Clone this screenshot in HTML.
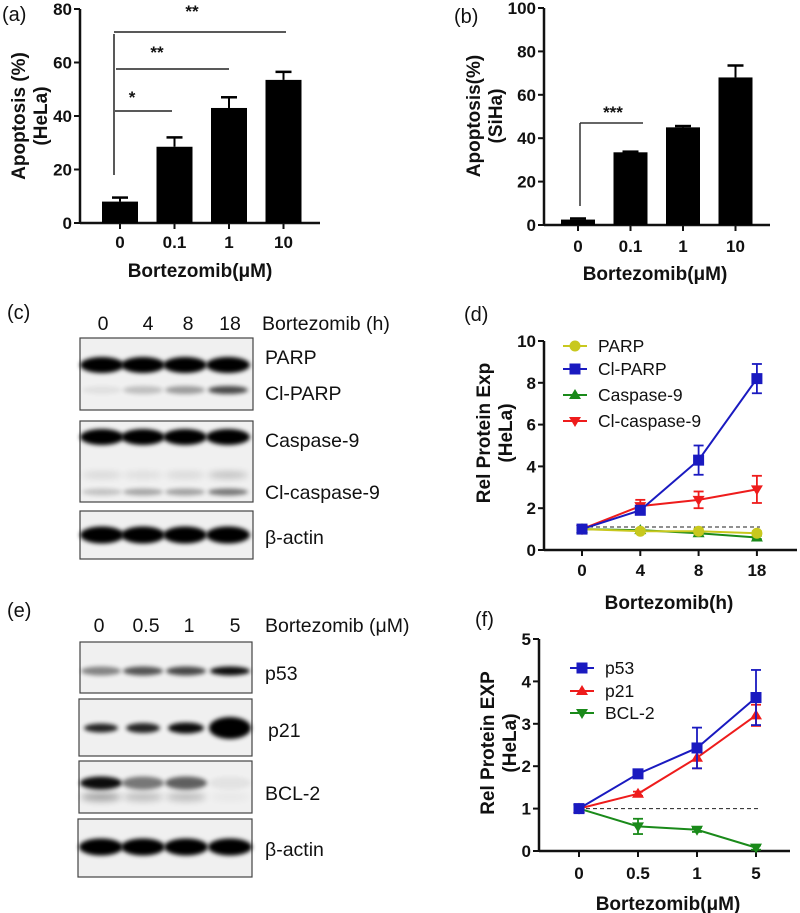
<!DOCTYPE html>
<html><head><meta charset="utf-8"><style>
html,body{margin:0;padding:0;background:#fff;}
svg{display:block;font-family:"Liberation Sans",Arial,sans-serif;}
.tk{font-size:17px;font-weight:bold;fill:#111;}
.at{font-size:19px;font-weight:bold;fill:#111;}
.pl{font-size:20px;fill:#111;}
.bl{font-size:19.5px;fill:#111;}
.lg{font-size:17.5px;fill:#111;}
</style></head><body>
<svg id="fig" width="800" height="913" viewBox="0 0 800 913">
<defs>
<filter id="blur" x="-30%" y="-100%" width="160%" height="300%"><feGaussianBlur stdDeviation="2.2"/></filter>
<filter id="blur2" x="-30%" y="-100%" width="160%" height="300%"><feGaussianBlur stdDeviation="3.5"/></filter>
</defs>
<g id="root"></g>
</svg>
<script>
// ---- data ----
const barCats = ["0","0.1","1","10"];
const helaVals = [8, 28.5, 43, 53.5];
const helaErr = [1.5, 3.5, 4, 3];
const sihaVals = [2.5, 33.5, 45, 68];
const sihaErr = [0.5, 0.3, 0.6, 5.5];
const helaTicks = [0,20,40,60,80];
const sihaTicks = [0,20,40,60,80,100];

const dCats = ["0","4","8","18"];
const dTicks = [0,2,4,6,8,10];
const parpVals = [1, 0.9, 0.9, 0.8];
const parpErr = [0.05, 0.08, 0.12, 0.1];
const clparpVals = [1, 1.9, 4.3, 8.2];
const clparpErr = [0.05, 0.12, 0.7, 0.7];
const casp9Vals = [1, 0.95, 0.8, 0.6];
const casp9Err = [0.05, 0.05, 0.1, 0.08];
const clcasp9Vals = [1, 2.1, 2.4, 2.9];
const clcasp9Err = [0.05, 0.3, 0.4, 0.65];
const dRef = 1.1;

const fCats = ["0","0.5","1","5"];
const fTicks = [0,1,2,3,4,5];
const p53Vals = [1, 1.82, 2.43, 3.62];
const p53Err = [0.03, 0.08, 0.48, 0.65];
const p21Vals = [1, 1.35, 2.2, 3.2];
const p21Err = [0.03, 0.05, 0.25, 0.25];
const bcl2Vals = [1, 0.58, 0.5, 0.08];
const bcl2Err = [0.03, 0.18, 0.05, 0.05];
const fRef = 1;

const NS = "http://www.w3.org/2000/svg";
const root = document.getElementById('root');
function el(tag, attrs, parent, txt){
  const e = document.createElementNS(NS, tag);
  for (const k in attrs) e.setAttribute(k, attrs[k]);
  if (txt !== undefined) e.textContent = txt;
  (parent || root).appendChild(e);
  return e;
}
function grp(name){
  const g = el('g', {});
  
  
  return g;
}

function axes(g, x0, x1, yTop, yBot, ticks, ymax, tickLabelX, cats, xFn, tickY){
  const yFn = v => yBot - (v / ymax) * (yBot - yTop);
  const ax = el('line', {x1:x0, y1:yTop, x2:x0, y2:yBot, stroke:'#111', 'stroke-width':2.5}, g);
  
  
  const bx = el('line', {x1:x0, y1:yBot, x2:x1, y2:yBot, stroke:'#111', 'stroke-width':2.5}, g);
  
  
  ticks.forEach(t => {
    const y = yFn(t);
    el('line', {x1:x0-6, y1:y, x2:x0, y2:y, stroke:'#111', 'stroke-width':2}, g);
    const tl = el('text', {x:x0-8, y:y+6, 'text-anchor':'end', class:'tk'}, g, String(t));
    
    
  });
  cats.forEach((c, i) => {
    const x = xFn(i);
    el('line', {x1:x, y1:yBot, x2:x, y2:yBot+6, stroke:'#111', 'stroke-width':2}, g);
    const tl = el('text', {x:x, y:tickY, 'text-anchor':'middle', class:'tk'}, g, c);
    
    
  });
  return yFn;
}
function ytitle(g, cx, cy, l1, l2){
  const t = el('text', {transform:`translate(${cx},${cy}) rotate(-90)`, 'text-anchor':'middle', class:'at'}, g);
  
  
  el('tspan', {x:0, dy:-4}, t, l1);
  el('tspan', {x:0, dy:22}, t, l2);
}
function xtitle(g, cx, y, s){
  const t = el('text', {x:cx, y:y, 'text-anchor':'middle', class:'at'}, g, s);
  
  
}
function plabel(x, y, s){
  const t = el('text', {x:x, y:y, class:'pl'}, root, s);
  
  
}

// ---- Panel a ----
(function(){
  const g = grp('panel-a-hela-apoptosis');
  const xFn = i => 120 + i * 54.5;
  const yFn = axes(g, 80, 320, 9, 223, helaTicks, 80, 0, barCats, xFn, 248);
  helaVals.forEach((v, i) => {
    const x = xFn(i), y = yFn(v), ye = yFn(v + helaErr[i]);
    el('line', {x1:x, y1:y, x2:x, y2:ye, stroke:'#000', 'stroke-width':2}, g);
    el('line', {x1:x-8, y1:ye, x2:x+8, y2:ye, stroke:'#000', 'stroke-width':2.5}, g);
    const b = el('rect', {x:x-18, y:y, width:36, height:223-y, fill:'#000'}, g);
    
    
  });
  const s = el('g', {stroke:'#222', 'stroke-width':1.5}, g);
  
  
  el('line', {x1:114, y1:34, x2:114, y2:175}, s);
  el('line', {x1:114, y1:32, x2:286, y2:32}, s);
  el('line', {x1:116, y1:69, x2:229, y2:69}, s);
  el('line', {x1:115, y1:111, x2:172, y2:111}, s);
  el('text', {x:192, y:17, 'text-anchor':'middle', class:'tk'}, g, '**');
  el('text', {x:157, y:58, 'text-anchor':'middle', class:'tk'}, g, '**');
  el('text', {x:132, y:103, 'text-anchor':'middle', class:'tk'}, g, '*');
  ytitle(g, 29, 116, 'Apoptosis (%)', '(HeLa)');
  xtitle(g, 200, 277, 'Bortezomib(\u03bcM)');
  plabel(2, 21, '(a)');
})();

// ---- Panel b ----
(function(){
  const g = grp('panel-b-siha-apoptosis');
  const xFn = i => 578 + i * 52.5;
  const yFn = axes(g, 544, 770, 8, 225, sihaTicks, 100, 0, barCats, xFn, 252);
  sihaVals.forEach((v, i) => {
    const x = xFn(i), y = yFn(v), ye = yFn(v + sihaErr[i]);
    el('line', {x1:x, y1:y, x2:x, y2:ye, stroke:'#000', 'stroke-width':2}, g);
    el('line', {x1:x-8, y1:ye, x2:x+8, y2:ye, stroke:'#000', 'stroke-width':2.5}, g);
    const b = el('rect', {x:x-17, y:y, width:34, height:225-y, fill:'#000'}, g);
    
    
  });
  const s = el('g', {stroke:'#333', 'stroke-width':1.5}, g);
  
  
  el('line', {x1:580, y1:123, x2:580, y2:206}, s);
  el('line', {x1:580, y1:123, x2:643, y2:123}, s);
  el('text', {x:613, y:118, 'text-anchor':'middle', class:'tk'}, g, '***');
  ytitle(g, 484, 116, 'Apoptosis(%)', '(SiHa)');
  xtitle(g, 655, 280, 'Bortezomib(\u03bcM)');
  plabel(454, 23, '(b)');
})();

// ---- Western blots ----
function blotBox(g, x, y, w, h, name){
  const r = el('rect', {x:x, y:y, width:w, height:h, fill:'#f0f0f0', stroke:'#444', 'stroke-width':1.2}, g);
  
  
}
function band(g, cx, cy, w, h, op, f){
  el('ellipse', {cx:cx, cy:cy, rx:w/2, ry:h/2, fill:'#000', opacity:op, filter:'url(#' + (f||'blur') + ')'}, g);
}
function blotLabel(g, x, y, s){
  const t = el('text', {x:x, y:y, class:'bl'}, g, s);
  
  
}
(function(){
  const g = grp('panel-c-western-blot');
  plabel(7, 319, '(c)');
  const lx = [103, 148, 188, 230], lt = ['0','4','8','18'];
  lt.forEach((s, i) => { const t = el('text', {x:lx[i], y:330, 'text-anchor':'middle', class:'bl'}, g, s);   });
  blotLabel(g, 262, 330, 'Bortezomib  (h)');
  blotBox(g, 80, 338, 173, 72, 'blot-parp');
  blotBox(g, 80, 421, 173, 81, 'blot-caspase-9');
  blotBox(g, 80, 511, 173, 48, 'blot-actin-c');
  const bx = [102, 143, 185, 228];
  bx.forEach((x, i) => {
    band(g, x, 365, 44, 16, 1);
    band(g, x, 390, 40, 8, [0.06, 0.2, 0.35, 0.7][i]);
    band(g, x, 437, 44, 16, 1);
    band(g, x, 475, 40, 7, [0.1, 0.08, 0.1, 0.2][i], 'blur2');
    band(g, x, 492, 40, 7, [0.18, 0.3, 0.32, 0.5][i]);
    band(g, x, 535, 44, 17, 1);
  });
  blotLabel(g, 265, 364, 'PARP');
  blotLabel(g, 265, 400, 'Cl-PARP');
  blotLabel(g, 265, 447, 'Caspase-9');
  blotLabel(g, 265, 499, 'Cl-caspase-9');
  blotLabel(g, 265, 544, '\u03b2-actin');
})();
(function(){
  const g = grp('panel-e-western-blot');
  plabel(7, 617, '(e)');
  const lx = [99, 146, 189, 235], lt = ['0','0.5','1','5'];
  lt.forEach((s, i) => { const t = el('text', {x:lx[i], y:632, 'text-anchor':'middle', class:'bl'}, g, s);   });
  blotLabel(g, 265, 632, 'Bortezomib  (\u03bcM)');
  blotBox(g, 80, 642, 172, 51, 'blot-p53');
  blotBox(g, 79, 699, 173, 57, 'blot-p21');
  blotBox(g, 79, 761, 173, 52, 'blot-bcl2');
  blotBox(g, 78, 819, 174, 58, 'blot-actin-e');
  const lx2 = [101, 143, 186, 230];
  lx2.forEach((x, i) => {
    band(g, x, 671, 40, 9, [0.45, 0.65, 0.7, 0.95][i]);
    band(g, x, 728, [34,34,36,42][i], [9,10,11,22][i], [0.85, 0.85, 0.95, 1][i]);
    band(g, x, 783, 42, 13, [0.95, 0.5, 0.6, 0.05][i]);
    band(g, x, 797, 40, 9, [0.3, 0.2, 0.2, 0.03][i], 'blur2');
    band(g, x, 847, 44, 17, 1);
  });
  blotLabel(g, 265, 680, 'p53');
  blotLabel(g, 268, 737, 'p21');
  blotLabel(g, 265, 800, 'BCL-2');
  blotLabel(g, 265, 856, '\u03b2-actin');
})();

// ---- marker + line chart helpers ----
function marker(g, type, x, y, c){
  let m;
  if (type === 'circle') m = el('circle', {cx:x, cy:y, r:5.5, fill:c}, g);
  else if (type === 'square') m = el('rect', {x:x-5.5, y:y-5.5, width:11, height:11, fill:c}, g);
  else if (type === 'up') m = el('polygon', {points:`${x},${y-6} ${x+6},${y+4} ${x-6},${y+4}`, fill:c}, g);
  else m = el('polygon', {points:`${x},${y+6} ${x+6},${y-4} ${x-6},${y-4}`, fill:c}, g);
  return m;
}
function series(g, name, vals, errs, xFn, yFn, c, type){
  const sg = el('g', {}, g);
  
  
  const pts = vals.map((v, i) => xFn(i) + ',' + yFn(v)).join(' ');
  el('polyline', {points:pts, fill:'none', stroke:c, 'stroke-width':2}, sg);
  vals.forEach((v, i) => {
    const x = xFn(i), yh = yFn(v + errs[i]), yl = yFn(v - errs[i]);
    el('line', {x1:x, y1:yh, x2:x, y2:yl, stroke:c, 'stroke-width':1.8}, sg);
    el('line', {x1:x-5, y1:yh, x2:x+5, y2:yh, stroke:c, 'stroke-width':1.8}, sg);
    el('line', {x1:x-5, y1:yl, x2:x+5, y2:yl, stroke:c, 'stroke-width':1.8}, sg);
    const m = marker(sg, type, x, yFn(v), c);
    
    
  });
}
function legend(g, x, y, name, label, c, type){
  const lg = el('g', {}, g);
  
  
  el('line', {x1:x, y1:y, x2:x+24, y2:y, stroke:c, 'stroke-width':2}, lg);
  marker(lg, type, x+12, y, c);
  el('text', {x:x+35, y:y+6, class:'lg'}, lg, label);
}

// ---- Panel d ----
(function(){
  const g = grp('panel-d-protein-expression-time');
  const xFn = i => 582 + i * 58.3;
  const yFn = axes(g, 544, 797, 341, 550, dTicks, 10, 0, dCats, xFn, 576);
  el('line', {x1:582, y1:yFn(dRef), x2:760, y2:yFn(dRef), stroke:'#222', 'stroke-width':1, 'stroke-dasharray':'4,3'}, g);
  series(g, 'cl-caspase-9', clcasp9Vals, clcasp9Err, xFn, yFn, '#ee1c1c', 'down');
  series(g, 'caspase-9', casp9Vals, casp9Err, xFn, yFn, '#1a8a1a', 'up');
  series(g, 'parp', parpVals, parpErr, xFn, yFn, '#c8c81e', 'circle');
  series(g, 'cl-parp', clparpVals, clparpErr, xFn, yFn, '#1a1ac0', 'square');
  legend(g, 563, 346, 'parp', 'PARP', '#c8c81e', 'circle');
  legend(g, 563, 369, 'cl-parp', 'Cl-PARP', '#1a1ac0', 'square');
  legend(g, 563, 395, 'caspase-9', 'Caspase-9', '#1a8a1a', 'up');
  legend(g, 563, 421, 'cl-caspase-9', 'Cl-caspase-9', '#ee1c1c', 'down');
  ytitle(g, 494, 433, 'Rel Protein Exp', '(HeLa)');
  xtitle(g, 669, 609, 'Bortezomib(h)');
  plabel(464, 321, '(d)');
})();

// ---- Panel f ----
(function(){
  const g = grp('panel-f-protein-expression-dose');
  const xFn = i => 579 + i * 59;
  const yFn = axes(g, 539, 790, 639, 851, fTicks, 5, 0, fCats, xFn, 879);
  el('line', {x1:579, y1:yFn(fRef), x2:760, y2:yFn(fRef), stroke:'#222', 'stroke-width':1, 'stroke-dasharray':'4,3'}, g);
  series(g, 'bcl-2', bcl2Vals, bcl2Err, xFn, yFn, '#1a8a1a', 'down');
  series(g, 'p21', p21Vals, p21Err, xFn, yFn, '#ee1c1c', 'up');
  series(g, 'p53', p53Vals, p53Err, xFn, yFn, '#1a1ac0', 'square');
  legend(g, 570, 668, 'p53', 'p53', '#1a1ac0', 'square');
  legend(g, 570, 691, 'p21', 'p21', '#ee1c1c', 'up');
  legend(g, 570, 713, 'bcl-2', 'BCL-2', '#1a8a1a', 'down');
  ytitle(g, 498, 743, 'Rel Protein EXP', '(HeLa)');
  xtitle(g, 668, 910, 'Bortezomib(\u03bcM)');
  plabel(475, 626, '(f)');
})();
</script>
</body></html>
